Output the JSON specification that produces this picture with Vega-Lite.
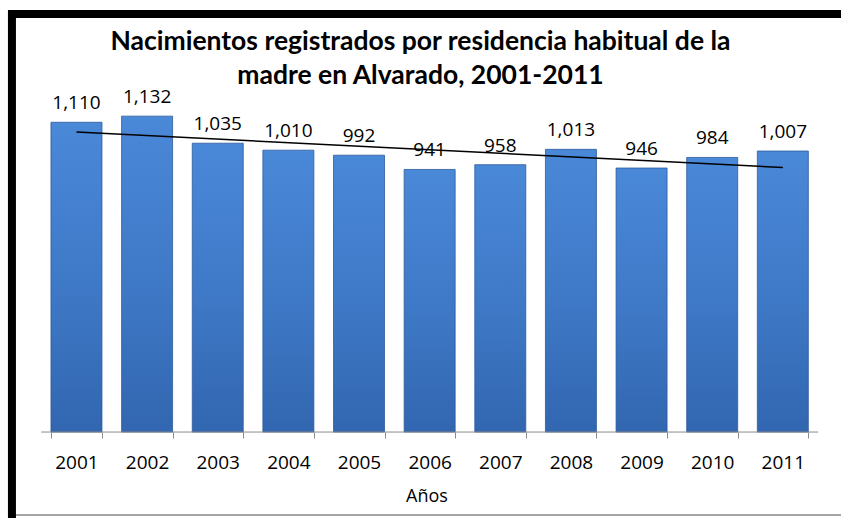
{
  "$schema": "https://vega.github.io/schema/vega-lite/v6.json",
  "width": 829,
  "height": 504,
  "autosize": {"type": "none"},
  "padding": {"left": 12, "top": 14, "right": 0, "bottom": 0},
  "background": "white",
  "config": {
    "view": {"stroke": "transparent", "strokeWidth": 0},
    "font": "Open Sans"
  },
  "title": {
    "text": ["Nacimientos registrados por residencia habitual de la", "madre en Alvarado, 2001-2011"],
    "fontSize": 26.5,
    "font": "Lato",
    "fontWeight": "bold",
    "color": "black",
    "lineHeight": 34,
    "offset": -81,
    "dx": -6,
    "anchor": "middle"
  },
  "datasets": {
    "births": [
      {"year": 2001, "value": 1110},
      {"year": 2002, "value": 1132},
      {"year": 2003, "value": 1035},
      {"year": 2004, "value": 1010},
      {"year": 2005, "value": 992},
      {"year": 2006, "value": 941},
      {"year": 2007, "value": 958},
      {"year": 2008, "value": 1013},
      {"year": 2009, "value": 946},
      {"year": 2010, "value": 984},
      {"year": 2011, "value": 1007}
    ],
    "trend": [
      {"year": 2001, "value": 1075},
      {"year": 2011, "value": 948}
    ],
    "baseline": [
      {"start": 2001, "end": 2011, "value": 0}
    ],
    "edges": [
      {"year": 2001, "top": 1498, "bottom": -297}
    ]
  },
  "layer": [
    {
      "data": {"name": "births"},
      "mark": {
        "type": "bar",
        "stroke": "#2c5a9c",
        "strokeWidth": 0.8,
        "color": {
          "gradient": "linear",
          "x1": 0, "y1": 0, "x2": 0, "y2": 1,
          "stops": [
            {"offset": 0, "color": "#4a88d8"},
            {"offset": 0.5, "color": "#3f7ac8"},
            {"offset": 1, "color": "#3266b0"}
          ]
        }
      },
      "encoding": {
        "x": {
          "field": "year",
          "type": "ordinal",
          "scale": {"paddingInner": 0.278, "paddingOuter": 0.507, "align": 0.544},
          "axis": {
            "title": "Años",
            "titleFont": "Open Sans",
            "titleFontSize": 18,
            "titleFontWeight": "normal",
            "titleColor": "black",
            "titlePadding": 15,
            "labelAngle": 0,
            "labelFont": "Open Sans",
            "labelFontSize": 19,
            "labelColor": "black",
            "labelPadding": 15,
            "tickSize": 6,
            "tickColor": "#8c8c8c",
            "domain": false,
            "tickBand": "extent",
            "offset": -86,
            "grid": false
          }
        },
        "y": {
          "field": "value",
          "type": "quantitative",
          "scale": {"domain": [-308, 1498], "nice": false, "zero": false},
          "axis": null
        }
      }
    },
    {
      "data": {"name": "baseline"},
      "mark": {"type": "rule", "color": "#8c8c8c", "strokeWidth": 1},
      "encoding": {
        "x": {"field": "start", "type": "ordinal", "bandPosition": -0.192},
        "x2": {"field": "end", "bandPosition": 1.192},
        "y": {"field": "value", "type": "quantitative"}
      }
    },
    {
      "data": {"name": "births"},
      "mark": {"type": "text", "dy": -13, "baseline": "alphabetic", "fontSize": 19, "font": "Open Sans", "color": "black"},
      "encoding": {
        "x": {"field": "year", "type": "ordinal"},
        "y": {"field": "value", "type": "quantitative"},
        "text": {"field": "value", "type": "quantitative", "format": ","}
      }
    },
    {
      "data": {"name": "trend"},
      "mark": {"type": "line", "color": "black", "strokeWidth": 1.5},
      "encoding": {
        "x": {"field": "year", "type": "ordinal"},
        "y": {"field": "value", "type": "quantitative"}
      }
    },
    {
      "data": {"name": "edges"},
      "mark": {"type": "rule", "color": "#a6a6a6", "strokeWidth": 2},
      "encoding": {
        "y": {"field": "bottom", "type": "quantitative"}
      }
    },
    {
      "data": {"name": "edges"},
      "mark": {"type": "rule", "color": "black", "strokeWidth": 8, "strokeCap": "square"},
      "encoding": {
        "y": {"field": "top", "type": "quantitative"}
      }
    },
    {
      "data": {"name": "edges"},
      "mark": {"type": "rule", "color": "black", "strokeWidth": 8, "strokeCap": "square"},
      "encoding": {
        "x": {"field": "year", "type": "ordinal", "bandPosition": -0.765}
      }
    }
  ]
}
